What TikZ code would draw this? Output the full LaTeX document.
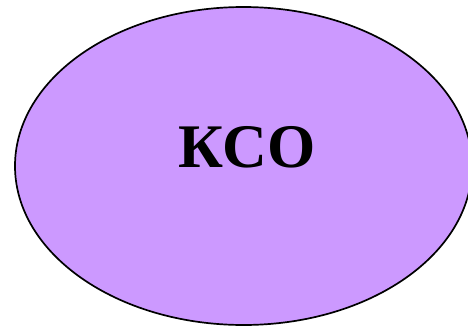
\documentclass[tikz,border=0pt]{standalone}
\usepackage{fontspec}
\setmainfont{Liberation Serif}
\usepackage{tikz}
\usetikzlibrary{shapes.geometric}
\usepackage{xcolor}
\definecolor{ksopurple}{HTML}{CC99FF}

\begin{document}
\begin{tikzpicture}[x=1pt, y=1pt,
  every node/.style={font=\bfseries},
  blob/.style={ellipse, draw=black, line width=1.7pt, fill=ksopurple,
    minimum width=457pt, minimum height=318pt, inner sep=0pt}
]
  \useasboundingbox (0,0) rectangle (468,-327);
  \node[blob] (kso) at (243.5,-166) {};
  \node[font=\bfseries\fontsize{62}{62}\selectfont] (ksotext) at (247,-147) {КСО};
\end{tikzpicture}
\end{document}
